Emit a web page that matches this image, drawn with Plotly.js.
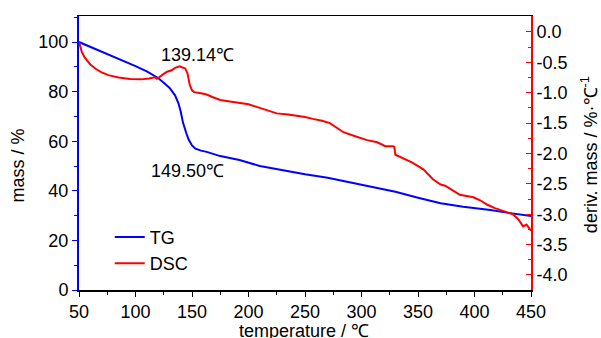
<!DOCTYPE html>
<html><head><meta charset="utf-8">
<script src="https://cdn.plot.ly/plotly-3.0.1.min.js"></script>
<style>body{margin:0;background:#fff}</style></head>
<body><div id="chart" style="width:601px;height:338px"></div>
<script>
const tgTemp = [50,60,70,80,90,100,110,120,125,130,135,138,140,142,145,147,150,153,158,163,175,192,210,230,250,270,300,330,350,370,390,414,430,450];
const tgMass = [100,98.1,96.2,94.3,92.4,90.3,88.2,85.5,83.6,81.6,78.5,75.3,72,67.5,63.2,60.7,58.3,57,56.2,55.7,54,52.4,50,48.3,46.7,45.3,42.5,39.6,37.2,35,33.6,32.3,31.1,29.8];

const dscTemp = [50,51,52.5,55,57.5,60,65,70,76,85,95,105,112,117,119,121,125,128,132,135,138,139.14,141,144,146,148,150,152,158,163,168,175,185,193,200,210,218,225,235,243,250,257,265,272,278,284,295,305,314,321,328,329,330,335,345,355,363,370,374,380,387,393,399,405,411,418,426,434,439,443,446,448.7,450];
const dscDeriv = [-0.16,-0.24,-0.33,-0.42,-0.48,-0.535,-0.61,-0.665,-0.71,-0.75,-0.775,-0.78,-0.765,-0.745,-0.77,-0.74,-0.69,-0.655,-0.63,-0.59,-0.575,-0.565,-0.58,-0.6,-0.68,-0.87,-0.96,-0.99,-1.01,-1.03,-1.07,-1.12,-1.15,-1.167,-1.19,-1.25,-1.30,-1.34,-1.36,-1.376,-1.40,-1.43,-1.46,-1.5,-1.57,-1.65,-1.72,-1.78,-1.815,-1.88,-1.88,-1.89,-2.02,-2.06,-2.15,-2.265,-2.42,-2.51,-2.53,-2.6,-2.68,-2.70,-2.72,-2.77,-2.84,-2.9,-2.95,-3.0,-3.09,-3.2,-3.17,-3.24,-3.27];

const xTickVals = [50,100,150,200,250,300,350,400,450];
const yTickVals = [0,20,40,60,80,100];
const y2TickVals = [0,-0.5,-1,-1.5,-2,-2.5,-3,-3.5,-4];
const y2TickText = ['0.0','-0.5','-1.0','-1.5','-2.0','-2.5','-3.0','-3.5','-4.0'];
const seriesNames = ['TG','DSC'];
const peakLabels = ['139.14℃','149.50℃'];
const axisTitles = ['temperature / ℃', 'mass / %', 'deriv. mass / %·℃<sup>-1</sup>'];

const FONT = 'Liberation Sans, Arial, sans-serif';

const traces = [
  {x: tgTemp, y: tgMass, name: seriesNames[0], type: 'scatter', mode: 'lines',
   line: {color: '#0000ff', width: 2}, yaxis: 'y'},
  {x: dscTemp, y: dscDeriv, name: seriesNames[1], type: 'scatter', mode: 'lines',
   line: {color: '#ff0000', width: 2}, yaxis: 'y2'}
];

const layout = {
  width: 601, height: 338,
  margin: {l: 79, r: 70, t: 16, b: 48},
  paper_bgcolor: '#fff', plot_bgcolor: '#fff',
  font: {family: FONT, size: 18, color: '#000'},
  showlegend: true,
  legend: {x: 0.068, y: 0.26, xanchor: 'left', yanchor: 'top',
           bgcolor: 'rgba(0,0,0,0)', font: {size: 18, family: FONT},
           itemwidth: 30},
  xaxis: {
    range: [50, 450], tickvals: xTickVals, ticktext: xTickVals.map(String),
    showgrid: false, zeroline: false, showline: true, linecolor: '#000', linewidth: 1.5,
    mirror: true, ticks: 'outside', ticklen: 5, tickcolor: '#000',
    minor: {ticks: 'outside', ticklen: 3, dtick: 25, tick0: 50, tickcolor: '#000'},
    tickfont: {size: 18, family: FONT}
  },
  yaxis: {
    range: [0, 110.5], tickvals: yTickVals, ticktext: yTickVals.map(String),
    showgrid: false, zeroline: false, showline: true, linecolor: '#0000ff', linewidth: 2,
    ticks: 'outside', ticklen: 5, tickcolor: '#0000ff',
    minor: {ticks: 'outside', ticklen: 3, dtick: 10, tick0: 0, tickcolor: '#0000ff'},
    tickfont: {size: 18, family: FONT}
  },
  yaxis2: {
    overlaying: 'y', side: 'right', anchor: 'x',
    range: [-4.247, 0.263], tickvals: y2TickVals, ticktext: y2TickText,
    showgrid: false, zeroline: false, showline: true, linecolor: '#ff0000', linewidth: 2,
    ticks: 'inside', ticklen: 5, tickcolor: '#ff0000',
    minor: {ticks: 'inside', ticklen: 3, dtick: 0.25, tick0: 0, tickcolor: '#ff0000'},
    tickfont: {size: 18, family: FONT}
  },
  annotations: [
    {xref: 'paper', yref: 'paper', x: 0.262, y: 0.859, text: peakLabels[0], showarrow: false,
     font: {size: 18, family: FONT}, xanchor: 'center', yanchor: 'middle'},
    {xref: 'paper', yref: 'paper', x: 0.240, y: 0.434, text: peakLabels[1], showarrow: false,
     font: {size: 18, family: FONT}, xanchor: 'center', yanchor: 'middle'},
    {xref: 'paper', yref: 'paper', x: 0.498, y: -0.149, text: axisTitles[0], showarrow: false,
     font: {size: 18, family: FONT}, xanchor: 'center', yanchor: 'middle',
     height: 18, borderpad: 0},
    {xref: 'paper', yref: 'paper', x: -0.134, y: 0.456, text: axisTitles[1], showarrow: false,
     textangle: -90, font: {size: 18, family: FONT}, xanchor: 'center', yanchor: 'middle'},
    {xref: 'paper', yref: 'paper', x: 1.131, y: 0.493, text: axisTitles[2], showarrow: false,
     textangle: -90, font: {size: 18, family: FONT}, xanchor: 'center', yanchor: 'middle'}
  ]
};

Plotly.newPlot('chart', traces, layout, {displayModeBar: false, staticPlot: true});
</script>
</body></html>
